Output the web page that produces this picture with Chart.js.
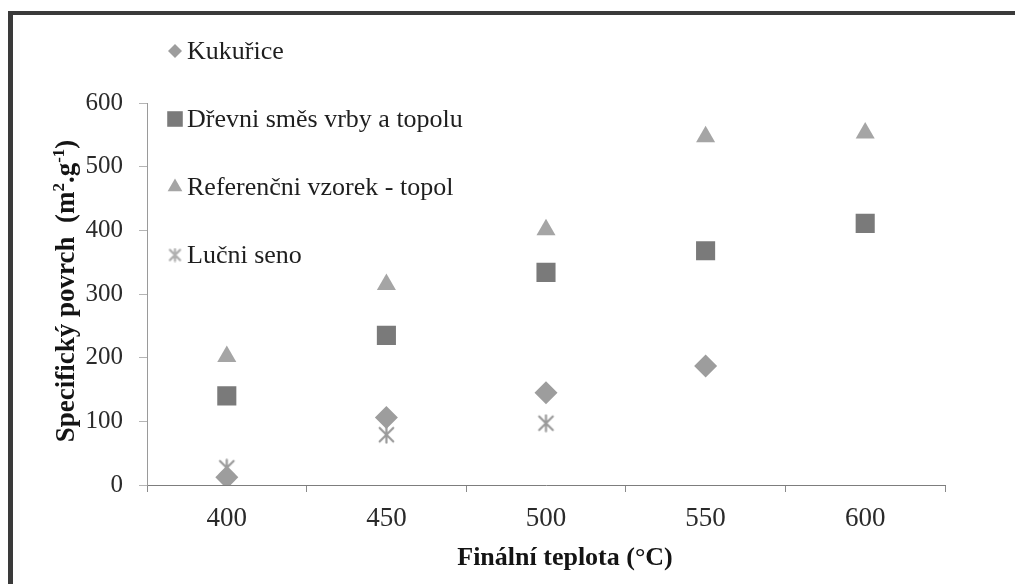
<!DOCTYPE html>
<html>
<head>
<meta charset="utf-8">
<script src="https://cdn.jsdelivr.net/npm/chart.js@4.4.1/dist/chart.umd.min.js"></script>
<style>
  html, body { margin: 0; padding: 0; background: #fff; }
  #wrap { position: relative; width: 1015px; height: 584px; overflow: hidden; }
  #frame {
    position: absolute; left: 8px; top: 11px; width: 1100px; height: 700px;
    border-left: 5px solid #3a3a3a; border-top: 4px solid #3a3a3a;
    pointer-events: none;
  }
</style>
</head>
<body>
<div id="wrap">
  <canvas id="chart" width="1015" height="584"></canvas>
  <div id="frame"></div>
</div>
<script>
// ---- data -----------------------------------------------------------------
var temps = ['400', '450', '500', '550', '600'];
var kukurice = [12, 106, 145, 187, null];
var drevniSmes = [140, 235, 334, 368, 411];
var referencni = [202, 315, 401, 547, 553];
var lucniSeno = [27, 79, 97, null, null];

var yTicks = [0, 100, 200, 300, 400, 500, 600];

var xTitle = 'Finální teplota (°C)';
// y title pieces: [text, superscript?]
var yTitle = [['Specifický povrch  (m', false], ['2', true], ['.g', false], ['-1', true], [')', false]];

var SERIF = '"Liberation Serif", "Times New Roman", serif';

// six-armed asterisk marker (Excel "star") drawn on a small canvas
function starMarker(size, color) {
    var c = document.createElement('canvas');
    c.width = size; c.height = size;
    var g = c.getContext('2d');
    var h = size / 2, r = h - 1.5;
    g.strokeStyle = color;
    g.lineWidth = 2.2;
    g.lineCap = 'round';
    g.beginPath();
    g.moveTo(h - r * 0.85, h - r * 0.85); g.lineTo(h + r * 0.85, h + r * 0.85);
    g.moveTo(h + r * 0.85, h - r * 0.85); g.lineTo(h - r * 0.85, h + r * 0.85);
    g.moveTo(h, h - r); g.lineTo(h, h + r);
    g.stroke();
    return c;
}

var series = [
    { label: 'Kukuřice', data: kukurice, color: '#9d9d9d', style: 'rectRot', r: 11.5, lr: 7 },
    { label: 'Dřevni směs vrby a topolu', data: drevniSmes, color: '#7a7a7a', style: 'rect', r: 13.5, lr: 11 },
    { label: 'Referenčni vzorek - topol', data: referencni, color: '#a5a5a5', style: 'triangle', r: 11, lr: 8.5 },
    { label: 'Lučni seno', data: lucniSeno, color: '#a3a3a3', style: starMarker(19, '#9a9a9a'), r: 9, lr: 7,
      legendStyle: starMarker(15, '#b0b0b0') }
];

// ---- legend inside the plot + both axis titles -----------------------------
var overlay = {
    id: 'overlay',
    afterDraw: function (chart) {
        var ctx = chart.ctx;
        var area = chart.chartArea;
        ctx.save();

        // legend, one entry per row
        var mx = 175, tx = 187, y0 = 51, step = 68;
        series.forEach(function (s, i) {
            var y = y0 + i * step;
            var st = s.legendStyle || s.style;
            ctx.fillStyle = s.color;
            ctx.strokeStyle = s.color;
            if (typeof st === 'string') {
                Chart.helpers.drawPoint(ctx, { pointStyle: st, rotation: 0, radius: s.lr, borderWidth: 0 }, mx, y);
            } else {
                ctx.drawImage(st, mx - st.width / 2, y - st.height / 2);
            }
            ctx.font = '26px ' + SERIF;
            ctx.fillStyle = '#1e1e1e';
            ctx.textAlign = 'left';
            ctx.textBaseline = 'middle';
            ctx.fillText(s.label, tx, y + 1);
        });

        // x title
        ctx.fillStyle = '#141414';
        ctx.font = 'bold 26px ' + SERIF;
        ctx.textAlign = 'center';
        ctx.textBaseline = 'alphabetic';
        ctx.fillText(xTitle, 565, 565);

        // y title, rotated, with raised exponents
        var big = 'bold 27px ' + SERIF, small = 'bold 17px ' + SERIF;
        var total = 0;
        yTitle.forEach(function (p) {
            ctx.font = p[1] ? small : big;
            total += ctx.measureText(p[0]).width;
        });
        ctx.translate(74, (area.top + area.bottom) / 2 - 3);
        ctx.rotate(-Math.PI / 2);
        ctx.textAlign = 'left';
        var x = -total / 2;
        yTitle.forEach(function (p) {
            ctx.font = p[1] ? small : big;
            ctx.fillText(p[0], x, p[1] ? -10 : 0);
            x += ctx.measureText(p[0]).width;
        });
        ctx.restore();
    }
};

new Chart(document.getElementById('chart'), {
    type: 'line',
    data: {
        labels: temps,
        datasets: series.map(function (s) {
            return {
                label: s.label,
                data: s.data,
                showLine: false,
                pointStyle: s.style,
                pointRadius: s.r,
                pointHoverRadius: s.r,
                pointBorderWidth: 0,
                backgroundColor: s.color,
                borderColor: s.color
            };
        })
    },
    options: {
        responsive: false,
        animation: false,
        devicePixelRatio: 1,
        layout: { padding: { left: 14, top: 103, right: 70, bottom: 0 } },
        plugins: { legend: { display: false }, tooltip: { enabled: false } },
        scales: {
            x: {
                type: 'category',
                offset: true,
                grid: {
                    offset: true,
                    drawOnChartArea: false,
                    tickLength: 7,
                    color: '#8a8a8a'
                },
                border: { color: '#7d7d7d', width: 1 },
                ticks: {
                    color: '#2a2a2a',
                    padding: 11,
                    maxRotation: 0,
                    font: { family: SERIF, size: 27 }
                },
                afterFit: function (scale) { scale.height = 584 - 485; }
            },
            y: {
                min: 0,
                max: 600,
                afterBuildTicks: function (scale) {
                    scale.ticks = yTicks.map(function (v) { return { value: v }; });
                },
                grid: {
                    drawOnChartArea: false,
                    tickLength: 8,
                    color: '#b5b5b5'
                },
                border: { color: '#9a9a9a', width: 1 },
                ticks: {
                    color: '#2a2a2a',
                    padding: 16,
                    font: { family: SERIF, size: 25 }
                },
                afterFit: function (scale) { scale.width = 147 - 14; }
            }
        }
    },
    plugins: [overlay]
});
</script>
</body>
</html>
